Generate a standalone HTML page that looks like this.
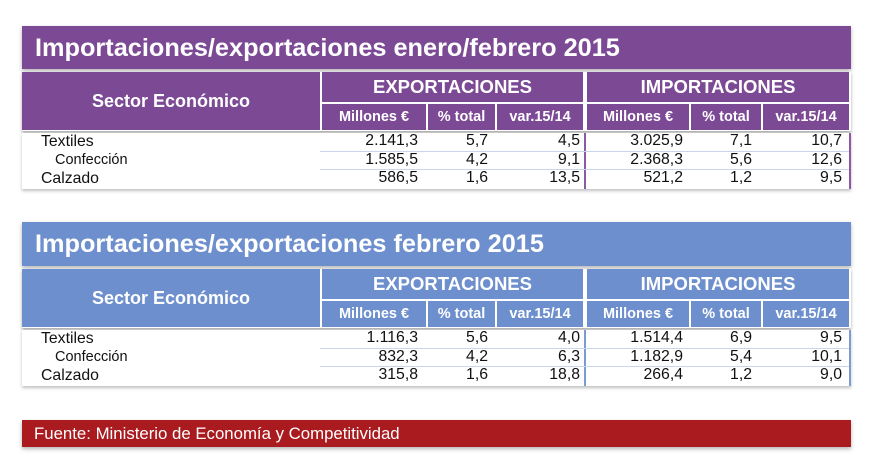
<!DOCTYPE html>
<html><head><meta charset="utf-8"><style>
body{margin:0;width:874px;height:472px;background:#fff;position:relative;overflow:hidden;font-family:"Liberation Sans",Arial,sans-serif}
.a{position:absolute;box-sizing:border-box}
.t{color:#fff;font-weight:bold;font-size:25.3px;line-height:44px;padding-left:13px;box-shadow:0 2px 4px rgba(0,0,0,.3)}
.h{color:#fff;font-weight:bold;text-align:center}
.n{font-size:15.8px;color:#111;text-align:right;line-height:18.5px}
.l{font-size:15.8px;color:#111;line-height:18px}
.sep{height:1px;background:#c9d6ea}
.big{font-size:18.5px;line-height:30px}
.sec{font-size:18px;line-height:58px}
.sub{font-size:14.5px;line-height:26px}
</style></head><body>

<!-- TABLE 1 -->
<div class="a t" style="left:22px;top:26px;width:829px;height:43px;background:#7c4a95">Importaciones/exportaciones enero/febrero 2015</div>
<div class="a" style="left:22px;top:72px;width:829px;height:59px;background:#fff;box-shadow:0 2px 3px rgba(0,0,0,.35)"></div>
<div class="a h sec" style="left:22px;top:72px;width:298px;height:58px;background:#7c4a95">Sector Económico</div>
<div class="a h big" style="left:322px;top:72px;width:261px;height:30px;background:#7c4a95">EXPORTACIONES</div>
<div class="a h big" style="left:587px;top:72px;width:262px;height:30px;background:#7c4a95">IMPORTACIONES</div>
<div class="a h sub" style="left:322px;top:104px;width:104px;height:26px;background:#7c4a95">Millones €</div>
<div class="a h sub" style="left:428px;top:104px;width:67px;height:26px;background:#7c4a95">% total</div>
<div class="a h sub" style="left:497px;top:104px;width:86px;height:26px;background:#7c4a95">var.15/14</div>
<div class="a h sub" style="left:587px;top:104px;width:102px;height:26px;background:#7c4a95">Millones €</div>
<div class="a h sub" style="left:691px;top:104px;width:70px;height:26px;background:#7c4a95">% total</div>
<div class="a h sub" style="left:763px;top:104px;width:86px;height:26px;background:#7c4a95">var.15/14</div>
<div class="a" style="left:22px;top:133px;width:829px;height:56px;background:#fff;box-shadow:0 2px 3px rgba(0,0,0,.25)"></div>
<div class="a" style="left:584px;top:133px;width:2px;height:56px;background:#8a5aa3"></div>
<div class="a" style="left:849px;top:133px;width:2px;height:56px;background:#8a5aa3"></div>
<div class="a sep" style="left:320px;top:151px;width:529px"></div>
<div class="a sep" style="left:320px;top:169px;width:529px"></div>
<div class="a l" style="left:41px;top:133px">Textiles</div>
<div class="a l" style="left:55px;top:151px;font-size:14.5px">Confección</div>
<div class="a l" style="left:41px;top:170px">Calzado</div>
<div class="a n" style="left:320px;top:132px;width:98px">2.141,3<br>1.585,5<br>586,5</div>
<div class="a n" style="left:428px;top:132px;width:60px">5,7<br>4,2<br>1,6</div>
<div class="a n" style="left:497px;top:132px;width:83px">4,5<br>9,1<br>13,5</div>
<div class="a n" style="left:587px;top:132px;width:96px">3.025,9<br>2.368,3<br>521,2</div>
<div class="a n" style="left:691px;top:132px;width:61px">7,1<br>5,6<br>1,2</div>
<div class="a n" style="left:763px;top:132px;width:79px">10,7<br>12,6<br>9,5</div>

<!-- TABLE 2 -->
<div class="a t" style="left:22px;top:222px;width:829px;height:44px;background:#6d8fcd">Importaciones/exportaciones febrero 2015</div>
<div class="a" style="left:22px;top:269px;width:829px;height:59px;background:#fff;box-shadow:0 2px 3px rgba(0,0,0,.35)"></div>
<div class="a h sec" style="left:22px;top:269px;width:298px;height:58px;background:#6d8fcd">Sector Económico</div>
<div class="a h big" style="left:322px;top:269px;width:261px;height:30px;background:#6d8fcd">EXPORTACIONES</div>
<div class="a h big" style="left:587px;top:269px;width:262px;height:30px;background:#6d8fcd">IMPORTACIONES</div>
<div class="a h sub" style="left:322px;top:301px;width:104px;height:26px;background:#6d8fcd">Millones €</div>
<div class="a h sub" style="left:428px;top:301px;width:67px;height:26px;background:#6d8fcd">% total</div>
<div class="a h sub" style="left:497px;top:301px;width:86px;height:26px;background:#6d8fcd">var.15/14</div>
<div class="a h sub" style="left:587px;top:301px;width:102px;height:26px;background:#6d8fcd">Millones €</div>
<div class="a h sub" style="left:691px;top:301px;width:70px;height:26px;background:#6d8fcd">% total</div>
<div class="a h sub" style="left:763px;top:301px;width:86px;height:26px;background:#6d8fcd">var.15/14</div>
<div class="a" style="left:22px;top:330px;width:829px;height:56px;background:#fff;box-shadow:0 2px 3px rgba(0,0,0,.25)"></div>
<div class="a" style="left:584px;top:330px;width:2px;height:56px;background:#7d9bd3"></div>
<div class="a" style="left:849px;top:330px;width:2px;height:56px;background:#7d9bd3"></div>
<div class="a sep" style="left:320px;top:348px;width:529px"></div>
<div class="a sep" style="left:320px;top:366px;width:529px"></div>
<div class="a l" style="left:41px;top:330px">Textiles</div>
<div class="a l" style="left:55px;top:348px;font-size:14.5px">Confección</div>
<div class="a l" style="left:41px;top:367px">Calzado</div>
<div class="a n" style="left:320px;top:329px;width:98px">1.116,3<br>832,3<br>315,8</div>
<div class="a n" style="left:428px;top:329px;width:60px">5,6<br>4,2<br>1,6</div>
<div class="a n" style="left:497px;top:329px;width:83px">4,0<br>6,3<br>18,8</div>
<div class="a n" style="left:587px;top:329px;width:96px">1.514,4<br>1.182,9<br>266,4</div>
<div class="a n" style="left:691px;top:329px;width:61px">6,9<br>5,4<br>1,2</div>
<div class="a n" style="left:763px;top:329px;width:79px">9,5<br>10,1<br>9,0</div>

<!-- FOOTER -->
<div class="a" style="left:22px;top:420px;width:829px;height:27px;background:#a91b1f;color:#fff;font-size:16.8px;line-height:27px;padding-left:12px;box-shadow:0 2px 4px rgba(0,0,0,.3)">Fuente: Ministerio de Economía y Competitividad</div>
</body></html>
